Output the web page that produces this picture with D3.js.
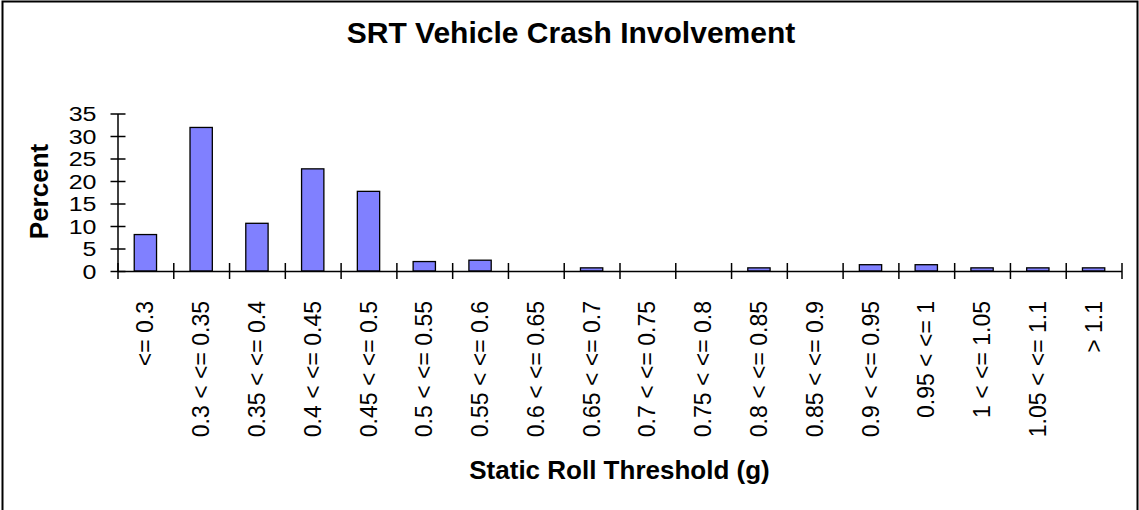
<!DOCTYPE html>
<html>
<head>
<meta charset="utf-8">
<script src="https://cdn.jsdelivr.net/npm/d3@7"></script>
<style>
  body { margin: 0; background: #fff; }
  svg text { font-family: "Liberation Sans", Arial, sans-serif; fill: #000; }
</style>
</head>
<body>
<svg id="chart"></svg>
<script>
// Data
const categories = ['<= 0.3', '0.3 < <= 0.35', '0.35 < <= 0.4', '0.4 < <= 0.45', '0.45 < <= 0.5',
  '0.5 < <= 0.55', '0.55 < <= 0.6', '0.6 < <= 0.65', '0.65 < <= 0.7', '0.7 < <= 0.75',
  '0.75 < <= 0.8', '0.8 < <= 0.85', '0.85 < <= 0.9', '0.9 < <= 0.95', '0.95 < <= 1',
  '1 < <= 1.05', '1.05 < <= 1.1', '> 1.1'];
const percents = [8.1, 31.9, 10.6, 22.7, 17.7, 2.1, 2.4, 0, 0.7, 0, 0, 0.7, 0, 1.4, 1.4, 0.7, 0.7, 0.7];
const yTicks = [0, 5, 10, 15, 20, 25, 30, 35];
const title = 'SRT Vehicle Crash Involvement';
const xTitle = 'Static Roll Threshold (g)';
const yTitle = 'Percent';

// Dimensions
const w = 1139;
const h = 510;
const plotLeft = 117.5, plotRight = 1121.5, plotTop = 113.5, plotBottom = 271;

const svg = d3.select('#chart')
  .attr('width', w)
  .attr('height', h);

// outer chart border
svg.append('rect')
  .attr('x', 2.5).attr('y', 1.5)
  .attr('width', 1135).attr('height', 520)
  .attr('fill', 'none')
  .attr('stroke', '#000')
  .attr('stroke-width', 2);

// Scales
const x = d3.scaleBand()
  .domain(categories)
  .range([plotLeft, plotRight])
  .paddingInner(0.6)
  .paddingOuter(0.3);

const xEdges = d3.scaleLinear()
  .domain([0, categories.length])
  .range([plotLeft, plotRight]);

const y = d3.scaleLinear()
  .domain([0, 35])
  .range([plotBottom, plotTop]);

// Bars
svg.selectAll('rect.bar')
  .data(percents)
  .enter()
  .append('rect')
  .attr('class', 'bar')
  .attr('x', (d, i) => x(categories[i]))
  .attr('y', d => y(d))
  .attr('width', x.bandwidth())
  .attr('height', d => plotBottom - y(d))
  .attr('fill', d => d > 0 ? '#8080ff' : 'none')
  .attr('stroke', d => d > 0 ? '#000' : 'none')
  .attr('stroke-width', 1.3);

// Y axis with cross ticks
const yAxis = svg.append('g')
  .attr('transform', `translate(${plotLeft},0)`)
  .call(d3.axisLeft(y).tickValues(yTicks).tickSize(7).tickSizeOuter(0));
yAxis.select('.domain').attr('stroke-width', 1.5);
yAxis.selectAll('.tick line').attr('x1', 8).attr('stroke-width', 1.5);
// labels are wide in the original, stretch them a bit
yAxis.selectAll('.tick text')
  .attr('font-size', 20)
  .attr('font-family', '"Liberation Sans", Arial, sans-serif')
  .attr('x', -16.8)
  .attr('dy', '0.36em')
  .attr('transform', 'scale(1.25,1)');

// X axis: boundary ticks
const xAxis = svg.append('g')
  .attr('transform', `translate(0,${plotBottom})`)
  .call(d3.axisBottom(xEdges).tickValues(d3.range(categories.length + 1)).tickSize(8).tickSizeOuter(0).tickFormat(''));
xAxis.select('.domain').attr('stroke-width', 1.5);
xAxis.selectAll('.tick line').attr('y1', -8).attr('stroke-width', 1.5);

// X axis: category labels, rotated
const xLabels = svg.append('g')
  .attr('transform', `translate(0,${plotBottom})`)
  .call(d3.axisBottom(x).tickSize(0));
xLabels.select('.domain').remove();
xLabels.selectAll('.tick text')
  .attr('font-size', 23)
  .attr('font-family', '"Liberation Sans", Arial, sans-serif')
  .attr('transform', 'rotate(-90)')
  .attr('text-anchor', 'end')
  .attr('x', -30)
  .attr('y', 0)
  .attr('dy', '0.35em');

// Titles
svg.append('text')
  .attr('x', 571).attr('y', 43)
  .attr('text-anchor', 'middle')
  .attr('font-size', 30)
  .attr('font-weight', 'bold')
  .text(title);

svg.append('text')
  .attr('x', 619.5).attr('y', 479)
  .attr('text-anchor', 'middle')
  .attr('font-size', 26)
  .attr('font-weight', 'bold')
  .text(xTitle);

svg.append('text')
  .attr('transform', 'translate(48,191.5) rotate(-90)')
  .attr('text-anchor', 'middle')
  .attr('font-size', 26)
  .attr('font-weight', 'bold')
  .text(yTitle);
</script>
</body>
</html>
